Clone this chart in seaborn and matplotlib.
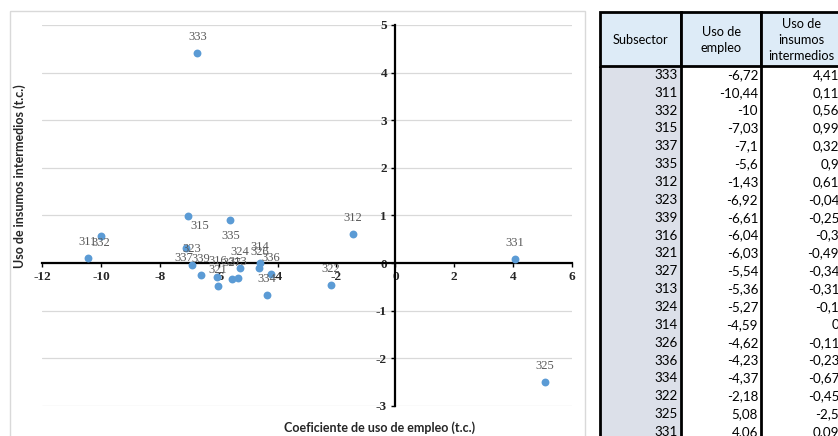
import matplotlib
matplotlib.use("Agg")
import matplotlib.pyplot as plt
import seaborn as sns
import pandas as pd
from matplotlib.patches import Rectangle

# ---------------------------------------------------------------------------
# Datos (leidos de la tabla)
# ---------------------------------------------------------------------------
subsectores = ["333", "311", "332", "315", "337", "335", "312", "323", "339", "316",
               "321", "327", "313", "324", "314", "326", "336", "334", "322", "325", "331"]
uso_empleo = [-6.72, -10.44, -10, -7.03, -7.1, -5.6, -1.43, -6.92, -6.61, -6.04,
              -6.03, -5.54, -5.36, -5.27, -4.59, -4.62, -4.23, -4.37, -2.18, 5.08, 4.06]
uso_insumos = [4.41, 0.11, 0.56, 0.99, 0.32, 0.9, 0.61, -0.04, -0.25, -0.3,
               -0.49, -0.34, -0.31, -0.1, 0, -0.11, -0.23, -0.67, -0.45, -2.5, 0.09]

x_ticks = [-12, -10, -8, -6, -4, -2, 0, 2, 4, 6]
y_ticks = [-3, -2, -1, 0, 1, 2, 3, 4, 5]

df = pd.DataFrame({"subsector": subsectores, "empleo": uso_empleo, "insumos": uso_insumos})

# desplazamiento de las etiquetas (puntos); por defecto encima del punto
offsets = {"315": (8, -7), "335": (0, -11.5), "332": (0, -4.5), "337": (-2, -7)}

W, H = 838, 436
sns.set_style("white")
plt.rcParams["axes.unicode_minus"] = False
plt.rcParams["font.family"] = ["Liberation Serif", "DejaVu Serif"]
# las etiquetas de los ejes van en negrita (estilo Excel)
plt.rcParams["font.weight"] = "bold"
plt.rcParams["xtick.labelsize"] = 9.5
plt.rcParams["ytick.labelsize"] = 9.5

fig = plt.figure(figsize=(W / 100, H / 100), dpi=100)

def px(x0, y0, x1, y1):
    # caja en pixeles (origen arriba a la izquierda) -> coordenadas de figura
    return [x0 / W, 1 - y1 / H, (x1 - x0) / W, (y1 - y0) / H]

# fondo para el marco del grafico y la tabla
bg = fig.add_axes([0, 0, 1, 1])
bg.set_xlim(0, W)
bg.set_ylim(H, 0)
bg.axis("off")
bg.add_patch(Rectangle((10, 11), 575, 440, fill=False, edgecolor="#D9D9D9", lw=1))

ax = fig.add_axes(px(42, 25, 572, 406))
ax.set_facecolor("none")
sns.scatterplot(data=df, x="empleo", y="insumos", ax=ax, color="#5B9BD5",
                s=32, linewidth=0, zorder=3)

for _, r in df.iterrows():
    dx, dy = offsets.get(r["subsector"], (0, 11.5))
    ax.annotate(r["subsector"], (r["empleo"], r["insumos"]), xytext=(dx, dy),
                textcoords="offset points", ha="center", va="center",
                fontsize=9, fontweight="normal", color="#595959", zorder=4)

ax.set_xlim(x_ticks[0], x_ticks[-1])
ax.set_ylim(y_ticks[0], y_ticks[-1])
ax.set_xticks(x_ticks)
ax.set_yticks(y_ticks)
ax.set_xticklabels([str(v) for v in x_ticks], fontweight="bold", fontsize=9.5)
ax.set_yticklabels([str(v) for v in y_ticks], fontweight="bold", fontsize=9.5)
ax.yaxis.grid(True, color="#D9D9D9", lw=0.9)
ax.xaxis.grid(False)
ax.set_axisbelow(True)
for s in ["top", "right"]:
    ax.spines[s].set_visible(False)
ax.spines["left"].set_position(("data", 0))
ax.spines["bottom"].set_position(("data", 0))
for s in ["left", "bottom"]:
    ax.spines[s].set_color("black")
    ax.spines[s].set_linewidth(1.6)
    ax.spines[s].set_zorder(2)
ax.tick_params(axis="both", direction="out", length=3, width=1, color="black",
               left=True, bottom=True, pad=3)
ax.set_xlabel("")
ax.set_ylabel("")

fig.text(380 / W, 1 - 428 / H, "Coeficiente de uso de empleo (t.c.)", ha="center",
         va="center", fontsize=9, fontweight="bold", family=["Lato", "DejaVu Sans"])
fig.text(20 / W, 1 - 176 / H, "Uso de insumos intermedios (t.c.)", ha="center",
         va="center", rotation=90, fontsize=9, fontweight="bold",
         family=["Lato", "DejaVu Sans"])

# ---------------------------------------------------------------------------
# Tabla a la derecha
# ---------------------------------------------------------------------------
cols_x = [600, 681, 761, 842]
head_top, head_bot = 12, 66
row_h = 17.85
headers = ["Subsector", "Uso de\nempleo", "Uso de\ninsumos\nintermedios"]
hfont = dict(family=["Lato", "DejaVu Sans"], fontsize=9.2, fontweight="normal", color="black")
tfont = dict(family=["Lato", "DejaVu Sans"], fontsize=9.6, fontweight="normal", color="black")

def fmt(v):
    return f"{v:g}".replace(".", ",")

body_bot = head_bot + row_h * len(subsectores)
bg.add_patch(Rectangle((cols_x[0], head_bot), cols_x[1] - cols_x[0], body_bot - head_bot,
                       facecolor="#DCE0E9", edgecolor="none"))
for i, h in enumerate(headers):
    bg.add_patch(Rectangle((cols_x[i], head_top), cols_x[i + 1] - cols_x[i],
                           head_bot - head_top, facecolor="#DDEBF7",
                           edgecolor="black", lw=2))
    bg.text((cols_x[i] + cols_x[i + 1]) / 2, (head_top + head_bot) / 2 + 1, h,
            ha="center", va="center", linespacing=1.45, **hfont)
for xv in cols_x:
    bg.plot([xv, xv], [head_bot, body_bot], color="black", lw=2, solid_capstyle="butt")

for j, (s, e, ins) in enumerate(zip(subsectores, uso_empleo, uso_insumos)):
    yc = head_bot + row_h * (j + 0.5)
    bg.text(cols_x[1] - 3, yc, s, ha="right", va="center", **tfont)
    bg.text(cols_x[2] - 3, yc, fmt(e), ha="right", va="center", **tfont)
    bg.text(cols_x[3] - 3, yc, fmt(ins), ha="right", va="center", **tfont)

fig.savefig("out.png", dpi=100)
